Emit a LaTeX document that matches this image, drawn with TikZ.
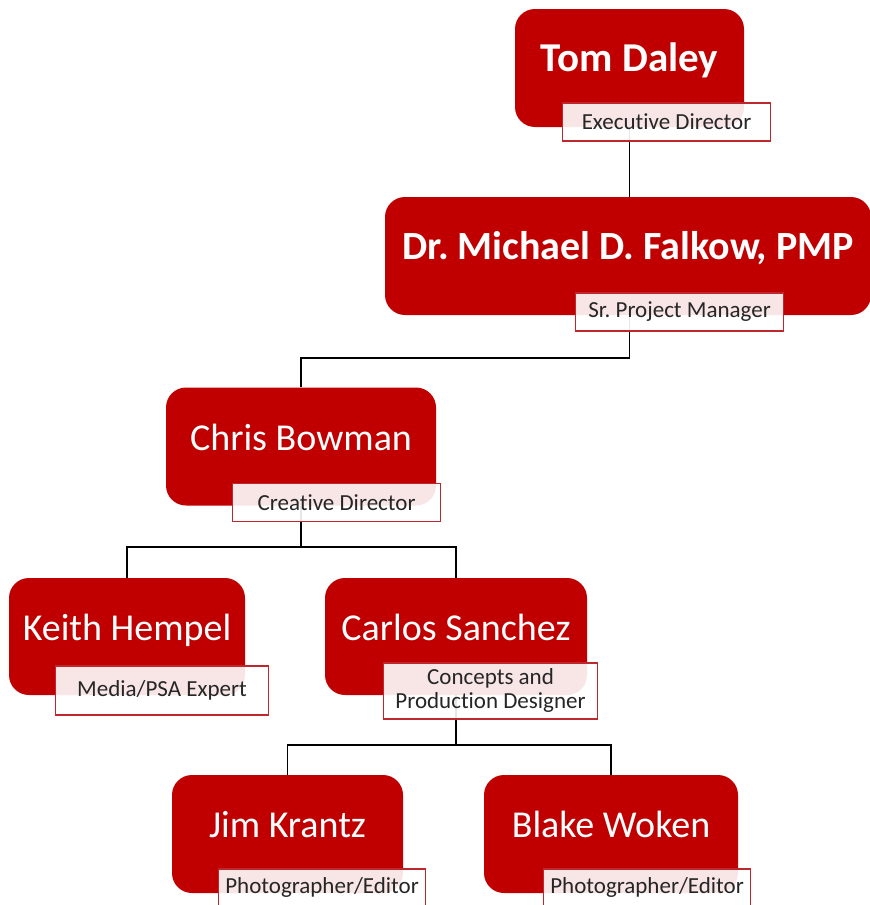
\documentclass[tikz,border=0pt]{standalone}
\usepackage{fontspec}
\setmainfont[Ligatures=NoCommon]{Carlito}
\usetikzlibrary{shapes,arrows}
\usetikzlibrary{positioning}
\usetikzlibrary{backgrounds}
\frenchspacing
\definecolor{chartred}{RGB}{192,0,0}
\definecolor{rolered}{RGB}{190,40,45}
\tikzstyle{person} = [rectangle, fill=chartred, text=white, rounded corners=20pt,
    minimum height=118pt, inner sep=0pt, text height=26pt, text depth=19pt,
    font=\fontsize{38}{44}\selectfont]
\tikzstyle{boss} = [person, font=\fontsize{41}{48}\selectfont\bfseries]
\tikzstyle{role} = [rectangle, draw=rolered, line width=1.5pt, fill=white,
    fill opacity=0.9, text opacity=1, text=black!85, minimum width=208pt,
    minimum height=38pt, inner sep=0pt, align=center,
    font=\fontsize{23}{24}\selectfont]
\tikzstyle{line} = [draw, line width=1.4pt]

\begin{document}
\begin{tikzpicture}[x=1pt, y=-1pt]
    \useasboundingbox (0,0) rectangle (870,905);
    % Place nodes
    \node [boss, minimum width=229pt] (tom) at (629.5,68) {Tom Daley};
    \node [role, below right=-25pt and 47pt of tom.south west] (tomrole) {Executive Director};
    \node [boss, minimum width=486pt, font=\fontsize{40}{47}\selectfont\bfseries] (michael) at (628,256) {Dr. Michael D. Falkow, PMP};
    \node [role, below right=-23pt and 190pt of michael.south west] (michaelrole) {Sr. Project Manager};
    \node [person, minimum width=270pt] (chris) at (301,446.5) {Chris Bowman};
    \node [role, below right=-23pt and 66pt of chris.south west] (chrisrole) {Creative Director};
    \node [person, minimum width=236pt, minimum height=117pt] (keith) at (127,636.5) {Keith Hempel};
    \node [role, minimum width=213pt, minimum height=49pt,
        below right=-30pt and 46pt of keith.south west] (keithrole) {Media/PSA Expert};
    \node [person, minimum width=262pt, minimum height=117pt] (carlos) at (456,636.5) {Carlos Sanchez};
    \node [role, minimum width=214pt, minimum height=56pt,
        below right=-33pt and 58pt of carlos.south west] (carlosrole) {Concepts and\\Production Designer};
    \node [person, minimum width=231pt] (jim) at (287.5,834) {Jim Krantz};
    \node [role, minimum width=207pt, below right=-25pt and 46pt of jim.south west] (jimrole) {Photographer/Editor};
    \node [person, minimum width=254pt] (blake) at (611,834) {Blake Woken};
    \node [role, minimum width=207pt, below right=-25pt and 59pt of blake.south west] (blakerole) {Photographer/Editor};

    % Draw edges
    \begin{scope}[on background layer]
    \path [line] (tom) -- (tom |- michael);
    \path [line] (tom |- michael) -- ++(0,102) -| (chris);
    \path [line] (chris) -- ++(0,100.5) -| (keith);
    \path [line] (chris) -- ++(0,100.5) -| (carlos);
    \path [line] (carlos) -- ++(0,108.5) -| (jim);
    \path [line] (carlos) -- ++(0,108.5) -| (blake);
    \end{scope}
\end{tikzpicture}
\end{document}
